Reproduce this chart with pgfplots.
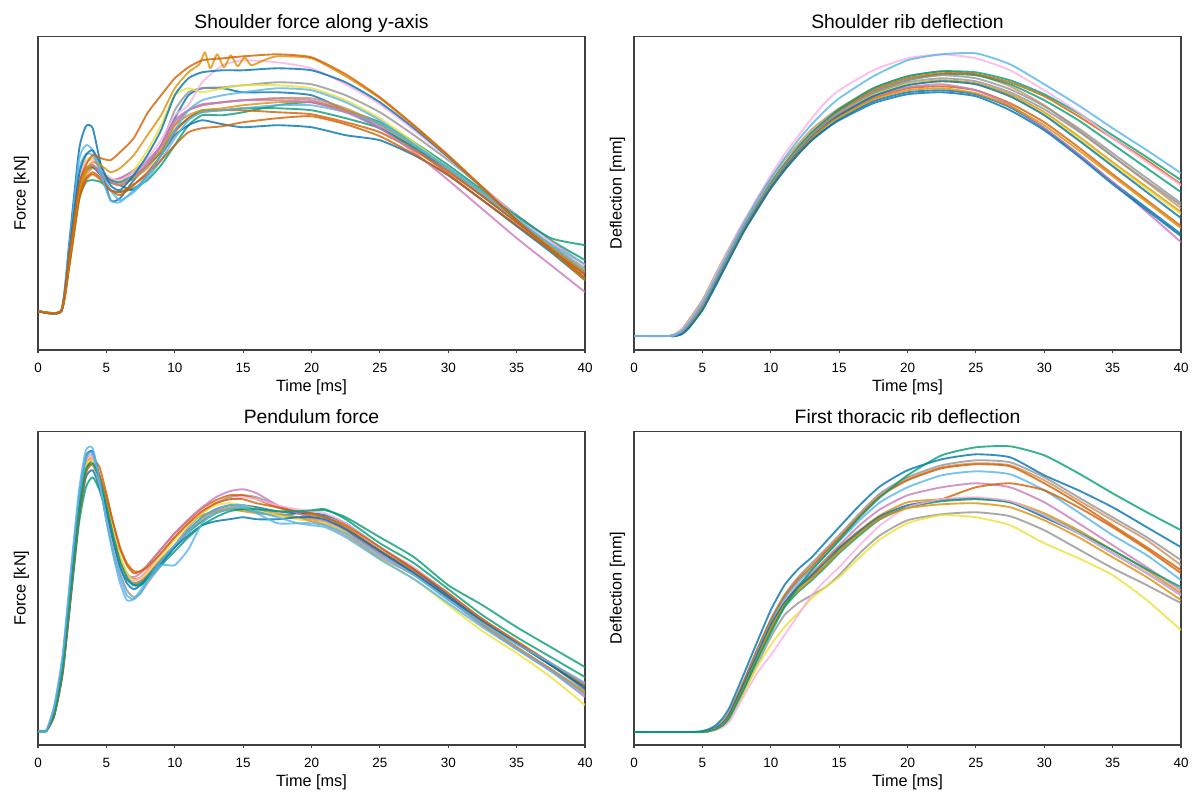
\documentclass[border=0pt]{standalone}
\usepackage{fontspec}
\setmainfont{Liberation Sans}
\usepackage{pgfplots}
\pgfplotsset{compat=1.18}
\definecolor{c0}{HTML}{0173B2}
\definecolor{c1}{HTML}{DE8F05}
\definecolor{c2}{HTML}{029E73}
\definecolor{c3}{HTML}{D55E00}
\definecolor{c4}{HTML}{CC78BC}
\definecolor{c5}{HTML}{CA9161}
\definecolor{c6}{HTML}{FBAFE4}
\definecolor{c7}{HTML}{949494}
\definecolor{c8}{HTML}{ECE133}
\definecolor{c9}{HTML}{56B4E9}
% 1 px of the reference = 0.75pt
\pgfplotsset{panel/.style={
  scale only axis, width=410.25pt, height=235.25pt, anchor=south west,
  xmin=0, xmax=40, ymin=0, ymax=314,
  xtick={0,5,...,40}, ytick=\empty, xtick pos=left,
  tick align=outside, major tick length=2.6pt,
  axis line style={black!75, line width=0.9pt},
  every tick/.style={black!75, line width=0.9pt},
  /pgf/number format/assume math mode=true,
  xticklabel style={font=\fontsize{10.1}{12}\selectfont, anchor=base, yshift=-14pt},
  xlabel={Time [ms]},
  xlabel style={font=\fontsize{12.2}{14}\selectfont, at={(axis description cs:0.5,-0.133)}, anchor=base},
  ylabel style={font=\fontsize{12.2}{14}\selectfont, at={(axis description cs:-0.0225,0.5)}, anchor=base, rotate=0},
  title style={font=\fontsize{14.5}{17}\selectfont, at={(0.5,1)}, anchor=base},
  every axis plot/.append style={line width=1.4pt, opacity=0.8, smooth, tension=0.35, line join=round, no marks},
}}

\begin{document}
\begin{tikzpicture}
\path[use as bounding box] (0,0) rectangle (896.25pt,594.75pt);

% ---------------- Shoulder force along y-axis
\begin{axis}[panel, at={(28.5pt,332.25pt)}, title={Shoulder force along y-axis}, ylabel={Force [kN]}]
\addplot[c0] coordinates {(0,39)(1.7,40)(2.3,110)(3,200)(3.5,224)(4,222)(4.6,185)(5.3,150)(6,152)(7,170)(8,185)(9,205)(10,232)(11,255)(12,262)(13.5,262)(15,258)(17.5,258)(20,255)(22.5,240)(25,222)(27.5,202)(30,180)(32.5,154)(35,128)(37.5,102)(40,76)};
\addplot[c2] coordinates {(0,39)(1.7,39)(2.3,85)(3,150)(3.5,168)(4,170)(4.6,168)(5.3,160)(6,158)(7,162)(8,170)(9,185)(10,205)(11,225)(12,235)(13.5,235)(15,238)(17.5,245)(20,248)(22.5,240)(25,228)(27.5,208)(30,185)(32.5,160)(35,135)(37.5,110)(40,90)};
\addplot[c7] coordinates {(0,39)(1.7,39)(2.3,90)(3,160)(3.5,178)(4,183)(4.6,175)(5.3,170)(6,172)(7,180)(8,190)(9,205)(10,240)(11,258)(12,262)(13.5,263)(15,265)(17.5,268)(20,266)(22.5,255)(25,238)(27.5,215)(30,190)(32.5,163)(35,135)(37.5,110)(40,85)};
\addplot[c8] coordinates {(0,39)(1.7,39)(2.3,95)(3,170)(3.5,190)(4,192)(4.6,180)(5.3,172)(6,168)(7,180)(8,200)(9,225)(10,255)(11,262)(12,258)(13.5,262)(15,265)(17.5,265)(20,262)(22.5,250)(25,232)(27.5,208)(30,182)(32.5,158)(35,130)(37.5,103)(40,78)};
\addplot[c4] coordinates {(0,39)(1.7,39)(2.3,98)(3,165)(3.5,182)(4,185)(4.6,178)(5.3,170)(6,172)(7,178)(8,188)(9,205)(10,230)(11,240)(12,245)(13.5,248)(15,250)(17.5,252)(20,250)(22.5,240)(25,224)(27.5,202)(30,176)(32.5,150)(35,125)(37.5,100)(40,72)};
\addplot[c5] coordinates {(0,39)(1.7,39)(2.3,88)(3,155)(3.5,175)(4,182)(4.6,178)(5.3,168)(6,165)(7,172)(8,182)(9,200)(10,225)(11,240)(12,245)(13.5,248)(15,250)(17.5,252)(20,252)(22.5,242)(25,226)(27.5,205)(30,180)(32.5,155)(35,130)(37.5,105)(40,82)};
\addplot[c6] coordinates {(0,39)(1.7,39)(2.3,100)(3,170)(3.5,188)(4,190)(4.6,180)(5.3,172)(6,170)(7,178)(8,192)(9,210)(10,235)(11,245)(12,268)(13.5,285)(15,290)(17.5,288)(20,282)(22.5,266)(25,246)(27.5,220)(30,192)(32.5,163)(35,134)(37.5,108)(40,85)};
\addplot[c0] coordinates {(0,39)(1.7,39)(2.3,90)(3,160)(3.5,180)(4,184)(4.6,175)(5.3,168)(6,165)(7,160)(8,175)(9,195)(10,215)(11,225)(12,230)(13.5,226)(15,223)(17.5,225)(20,223)(22.5,215)(25,210)(27.5,195)(30,175)(32.5,150)(35,124)(37.5,98)(40,70)};
\addplot[c2] coordinates {(0,39)(1.7,39)(2.3,92)(3,162)(3.5,180)(4,183)(4.6,178)(5.3,170)(6,168)(7,175)(8,185)(9,198)(10,220)(11,232)(12,240)(13.5,240)(15,242)(17.5,242)(20,240)(22.5,232)(25,222)(27.5,203)(30,182)(32.5,158)(35,134)(37.5,112)(40,105)};
\addplot[c3] coordinates {(0,39)(1.7,39)(2.3,88)(3,155)(3.5,172)(4,178)(4.6,172)(5.3,160)(6,155)(7,165)(8,178)(9,195)(10,218)(11,232)(12,238)(13.5,240)(15,240)(17.5,238)(20,236)(22.5,228)(25,218)(27.5,200)(30,178)(32.5,154)(35,128)(37.5,103)(40,78)};
\addplot[c1] coordinates {(0,39)(1.7,39)(2.3,90)(3,158)(3.5,178)(4,185)(4.6,178)(5.3,168)(6,165)(7,172)(8,185)(9,200)(10,225)(11,235)(12,240)(13.5,242)(15,245)(17.5,248)(20,248)(22.5,240)(25,226)(27.5,205)(30,182)(32.5,157)(35,130)(37.5,104)(40,78)};
\addplot[c9] coordinates {(0,39)(1.7,39)(2.3,100)(3,180)(3.5,196)(4,195)(4.6,180)(5.3,160)(6,150)(7,158)(8,172)(9,190)(10,212)(11,230)(12,238)(13.5,240)(15,242)(17.5,245)(20,245)(22.5,238)(25,226)(27.5,206)(30,182)(32.5,157)(35,130)(37.5,106)(40,86)};
\addplot[c4] coordinates {(0,39)(1.7,39)(2.3,95)(3,165)(3.5,182)(4,185)(4.6,176)(5.3,168)(6,166)(7,174)(8,186)(9,204)(10,228)(11,240)(12,246)(13.5,248)(15,250)(17.5,250)(20,248)(22.5,238)(25,222)(27.5,198)(30,170)(32.5,141)(35,112)(37.5,85)(40,58)};
\addplot[c3] coordinates {(0,39)(1.7,39)(2.3,85)(3,150)(3.5,170)(4,176)(4.6,170)(5.3,160)(6,158)(7,166)(8,176)(9,190)(10,205)(11,218)(12,222)(13.5,224)(15,228)(17.5,232)(20,234)(22.5,226)(25,214)(27.5,196)(30,175)(32.5,150)(35,125)(37.5,100)(40,75)};
\addplot[c9] coordinates {(0,39)(1.7,39)(2.3,105)(3,190)(3.5,205)(4,200)(4.6,175)(5.3,150)(6,148)(7,160)(8,175)(9,195)(10,220)(11,240)(12,250)(13.5,255)(15,258)(17.5,262)(20,260)(22.5,248)(25,230)(27.5,205)(30,182)(32.5,158)(35,132)(37.5,105)(40,80)};
\addplot[c0] coordinates {(0,39)(1.7,39)(2.3,100)(3,175)(3.5,195)(4,200)(4.6,185)(5.3,165)(6,160)(7,175)(8,195)(9,220)(10,255)(11,272)(12,278)(13.5,280)(15,280)(17.5,282)(20,280)(22.5,268)(25,248)(27.5,222)(30,193)(32.5,162)(35,130)(37.5,100)(40,70)};
\addplot[c1] coordinates {(0,39)(1.7,39)(2.3,92)(3,160)(3.5,180)(4,188)(4.6,185)(5.3,178)(6,182)(7,195)(8,215)(9,235)(10,262)(11,278)(11.8,286)(12.2,298)(12.6,282)(13.1,296)(13.6,283)(14.1,295)(14.6,284)(15.1,293)(15.6,285)(16.5,290)(17.5,294)(20,292)(22.5,274)(25,252)(27.5,224)(30,194)(32.5,162)(35,130)(37.5,100)(40,70)};
\addplot[c3] coordinates {(0,39)(1.7,39)(2.3,95)(3,165)(3.5,185)(4,195)(4.6,192)(5.3,190)(6,198)(7,212)(8,237)(9,255)(10,272)(11,283)(12,290)(13.5,292)(15,294)(17.5,296)(20,293)(22.5,276)(25,253)(27.5,225)(30,195)(32.5,163)(35,130)(37.5,100)(40,72)};
\end{axis}

% ---------------- Shoulder rib deflection
\begin{axis}[panel, at={(475.5pt,332.25pt)}, title={Shoulder rib deflection}, ylabel={Deflection [mm]}]
\addplot[c0] coordinates {(0,14)(2.5,14)(3,14)(3.5,16)(4,22)(5,40)(6,65)(7,92)(8,118)(9,140)(10,162)(11,180)(12,196)(13,210)(14,221)(15,231)(17.5,249)(20,258)(22.5,260)(25,256)(27.5,243)(30,222)(32.5,196)(35,168)(37.5,142)(40,116)};
\addplot[c5] coordinates {(0,14)(2.5,14)(3,16)(3.5,21)(4,30)(5,50)(6,77)(7,103)(8,128)(9,150)(10,171)(11,190)(12,206)(13,221)(14,232)(15,242)(17.5,262)(20,274)(22.5,279)(25,276)(27.5,264)(30,245)(32.5,220)(35,194)(37.5,168)(40,142)};
\addplot[c2] coordinates {(0,14)(2.5,14)(3,15)(3.5,19)(4,26)(5,45)(6,72)(7,98)(8,123)(9,146)(10,167)(11,186)(12,202)(13,216)(14,228)(15,238)(17.5,258)(20,270)(22.5,276)(25,275)(27.5,266)(30,250)(32.5,230)(35,206)(37.5,182)(40,158)};
\addplot[c3] coordinates {(0,14)(2.5,14)(3,14)(3.5,17)(4,24)(5,42)(6,68)(7,94)(8,119)(9,142)(10,163)(11,182)(12,198)(13,212)(14,224)(15,234)(17.5,252)(20,262)(22.5,264)(25,260)(27.5,247)(30,228)(32.5,203)(35,176)(37.5,150)(40,124)};
\addplot[c1] coordinates {(0,14)(2.5,14)(3,15)(3.5,18)(4,25)(5,44)(6,70)(7,96)(8,121)(9,144)(10,165)(11,184)(12,200)(13,215)(14,227)(15,237)(17.5,256)(20,266)(22.5,270)(25,267)(27.5,256)(30,238)(32.5,214)(35,188)(37.5,163)(40,138)};
\addplot[c7] coordinates {(0,14)(2.5,14)(3,15)(3.5,19)(4,26)(5,45)(6,71)(7,97)(8,122)(9,145)(10,166)(11,185)(12,202)(13,217)(14,229)(15,239)(17.5,258)(20,270)(22.5,275)(25,272)(27.5,261)(30,244)(32.5,222)(35,197)(37.5,172)(40,147)};
\addplot[c8] coordinates {(0,14)(2.5,14)(3,15)(3.5,19)(4,26)(5,46)(6,72)(7,98)(8,123)(9,146)(10,167)(11,186)(12,203)(13,217)(14,229)(15,238)(17.5,256)(20,266)(22.5,269)(25,266)(27.5,254)(30,236)(32.5,212)(35,186)(37.5,161)(40,136)};
\addplot[c4] coordinates {(0,14)(2.5,14)(3,15)(3.5,19)(4,26)(5,45)(6,71)(7,97)(8,122)(9,145)(10,166)(11,185)(12,201)(13,216)(14,227)(15,236)(17.5,254)(20,263)(22.5,266)(25,260)(27.5,245)(30,222)(32.5,196)(35,168)(37.5,138)(40,108)};
\addplot[c0] coordinates {(0,14)(2.5,14)(3,14)(3.5,17)(4,23)(5,42)(6,68)(7,94)(8,119)(9,142)(10,163)(11,182)(12,198)(13,213)(14,225)(15,235)(17.5,254)(20,265)(22.5,269)(25,266)(27.5,254)(30,235)(32.5,210)(35,184)(37.5,158)(40,132)};
\addplot[c3] coordinates {(0,14)(2.5,14)(3,15)(3.5,18)(4,25)(5,44)(6,70)(7,96)(8,121)(9,144)(10,166)(11,185)(12,202)(13,217)(14,229)(15,240)(17.5,260)(20,272)(22.5,277)(25,276)(27.5,268)(30,254)(32.5,234)(35,212)(37.5,190)(40,166)};
\addplot[c2] coordinates {(0,14)(2.5,14)(3,15)(3.5,19)(4,26)(5,45)(6,71)(7,97)(8,122)(9,145)(10,167)(11,186)(12,203)(13,218)(14,230)(15,241)(17.5,262)(20,274)(22.5,279)(25,278)(27.5,270)(30,256)(32.5,237)(35,215)(37.5,193)(40,170)};
\addplot[c1] coordinates {(0,14)(2.5,14)(3,14)(3.5,17)(4,23)(5,42)(6,67)(7,93)(8,118)(9,141)(10,162)(11,181)(12,197)(13,212)(14,224)(15,233)(17.5,251)(20,260)(22.5,262)(25,257)(27.5,244)(30,225)(32.5,200)(35,174)(37.5,148)(40,122)};
\addplot[c7] coordinates {(0,14)(2.5,14)(3,15)(3.5,19)(4,26)(5,45)(6,71)(7,97)(8,122)(9,145)(10,166)(11,185)(12,201)(13,216)(14,228)(15,238)(17.5,257)(20,268)(22.5,272)(25,269)(27.5,258)(30,241)(32.5,219)(35,194)(37.5,169)(40,145)};
\addplot[c0] coordinates {(0,14)(2.5,14)(3,14)(3.5,16)(4,22)(5,40)(6,66)(7,92)(8,118)(9,141)(10,162)(11,180)(12,196)(13,210)(14,221)(15,230)(17.5,247)(20,256)(22.5,258)(25,254)(27.5,240)(30,220)(32.5,194)(35,166)(37.5,140)(40,114)};
\addplot[c6] coordinates {(0,14)(2.5,14)(3,15)(3.5,20)(4,28)(5,48)(6,75)(7,102)(8,128)(9,152)(10,175)(11,196)(12,214)(13,232)(14,248)(15,260)(17.5,280)(20,292)(22.5,296)(25,292)(27.5,280)(30,260)(32.5,238)(35,212)(37.5,188)(40,165)};
\addplot[c9] coordinates {(0,14)(2.5,14)(3,15)(3.5,19)(4,27)(5,47)(6,73)(7,100)(8,126)(9,150)(10,172)(11,192)(12,210)(13,226)(14,240)(15,252)(17.5,274)(20,290)(22.5,296)(25,297)(27.5,286)(30,266)(32.5,245)(35,222)(37.5,200)(40,177)};
\end{axis}

% ---------------- Pendulum force
\begin{axis}[panel, at={(28.5pt,36pt)}, title={Pendulum force}, ylabel={Force [kN]}]
\addplot[c7] coordinates {(0,14)(0.6,14)(1.2,38)(1.8,85)(2.4,168)(3,248)(3.5,290)(4,292)(4.5,262)(5,225)(5.5,195)(6,172)(6.5,155)(7,148)(7.5,152)(8,162)(9,180)(10,200)(11,218)(12,232)(13,242)(14,248)(15,250)(16,248)(17.5,240)(19,232)(20,228)(21,225)(22.5,216)(25,194)(27.5,172)(30,146)(32.5,120)(35,98)(37.5,76)(40,52)};
\addplot[c2] coordinates {(0,14)(0.6,14)(1.2,30)(1.8,72)(2.4,148)(3,222)(3.5,258)(4,268)(4.5,255)(5,232)(5.5,205)(6,182)(6.5,167)(7,162)(7.5,164)(8,170)(9,185)(10,200)(11,213)(12,224)(13,232)(14,236)(15,236)(16,233)(17.5,230)(19,232)(20,234)(21,235)(22.5,228)(25,208)(27.5,188)(30,160)(32.5,140)(35,118)(37.5,98)(40,78)};
\addplot[c3] coordinates {(0,14)(0.6,14)(1.2,32)(1.8,75)(2.4,152)(3,232)(3.5,275)(4,286)(4.5,278)(5,252)(5.5,222)(6,196)(6.5,180)(7,172)(7.5,174)(8,180)(9,196)(10,212)(11,225)(12,237)(13,245)(14,250)(15,250)(16,246)(17.5,238)(19,232)(20,230)(21,228)(22.5,218)(25,195)(27.5,174)(30,150)(32.5,124)(35,102)(37.5,80)(40,58)};
\addplot[c1] coordinates {(0,14)(0.6,14)(1.2,34)(1.8,78)(2.4,158)(3,238)(3.5,280)(4,288)(4.5,270)(5,242)(5.5,212)(6,188)(6.5,172)(7,166)(7.5,168)(8,175)(9,192)(10,208)(11,222)(12,230)(13,234)(14,236)(15,234)(16,232)(17.5,230)(19,228)(20,226)(21,222)(22.5,214)(25,192)(27.5,172)(30,148)(32.5,122)(35,98)(37.5,76)(40,52)};
\addplot[c0] coordinates {(0,14)(0.6,14)(1.2,30)(1.8,72)(2.4,148)(3,228)(3.5,268)(4,275)(4.5,258)(5,232)(5.5,204)(6,180)(6.5,166)(7,160)(7.5,162)(8,168)(9,182)(10,198)(11,215)(12,228)(13,236)(14,240)(15,240)(16,238)(17.5,234)(19,232)(20,232)(21,230)(22.5,222)(25,198)(27.5,176)(30,150)(32.5,126)(35,102)(37.5,80)(40,58)};
\addplot[c4] coordinates {(0,14)(0.6,14)(1.2,38)(1.8,86)(2.4,168)(3,248)(3.5,285)(4,290)(4.5,266)(5,236)(5.5,205)(6,182)(6.5,170)(7,168)(7.5,172)(8,180)(9,196)(10,212)(11,226)(12,238)(13,248)(14,254)(15,256)(16,252)(17.5,240)(19,232)(20,228)(21,224)(22.5,214)(25,192)(27.5,172)(30,148)(32.5,120)(35,96)(37.5,74)(40,48)};
\addplot[c8] coordinates {(0,14)(0.6,14)(1.2,34)(1.8,80)(2.4,160)(3,240)(3.5,280)(4,285)(4.5,268)(5,242)(5.5,212)(6,188)(6.5,172)(7,165)(7.5,166)(8,172)(9,188)(10,205)(11,220)(12,232)(13,240)(14,242)(15,240)(16,236)(17.5,230)(19,226)(20,224)(21,222)(22.5,213)(25,186)(27.5,166)(30,140)(32.5,114)(35,92)(37.5,68)(40,40)};
\addplot[c5] coordinates {(0,14)(0.6,14)(1.2,32)(1.8,76)(2.4,154)(3,234)(3.5,274)(4,280)(4.5,262)(5,236)(5.5,206)(6,182)(6.5,168)(7,162)(7.5,164)(8,170)(9,186)(10,200)(11,214)(12,226)(13,234)(14,238)(15,238)(16,236)(17.5,232)(19,228)(20,224)(21,220)(22.5,210)(25,188)(27.5,170)(30,146)(32.5,120)(35,98)(37.5,76)(40,54)};
\addplot[c6] coordinates {(0,14)(0.6,14)(1.2,40)(1.8,88)(2.4,170)(3,250)(3.5,288)(4,288)(4.5,262)(5,232)(5.5,202)(6,180)(6.5,168)(7,164)(7.5,168)(8,176)(9,192)(10,208)(11,222)(12,234)(13,242)(14,246)(15,248)(16,246)(17.5,240)(19,236)(20,234)(21,232)(22.5,222)(25,198)(27.5,178)(30,152)(32.5,126)(35,104)(37.5,82)(40,62)};
\addplot[c0] coordinates {(0,14)(0.6,14)(1.2,36)(1.8,84)(2.4,165)(3,245)(3.5,288)(4,294)(4.5,268)(5,236)(5.5,204)(6,178)(6.5,162)(7,156)(7.5,160)(8,168)(9,184)(10,198)(11,210)(12,220)(13,224)(14,226)(15,228)(16,226)(17.5,226)(19,228)(20,228)(21,226)(22.5,216)(25,194)(27.5,172)(30,148)(32.5,124)(35,102)(37.5,80)(40,56)};
\addplot[c3] coordinates {(0,14)(0.6,14)(1.2,30)(1.8,72)(2.4,150)(3,230)(3.5,272)(4,282)(4.5,270)(5,248)(5.5,222)(6,198)(6.5,182)(7,174)(7.5,174)(8,178)(9,192)(10,208)(11,222)(12,234)(13,242)(14,246)(15,246)(16,242)(17.5,238)(19,234)(20,232)(21,228)(22.5,220)(25,198)(27.5,176)(30,152)(32.5,126)(35,104)(37.5,82)(40,60)};
\addplot[c9] coordinates {(0,14)(0.6,14)(1.2,36)(1.8,82)(2.4,165)(3,245)(3.5,288)(4,292)(4.5,262)(5,225)(5.5,190)(6,162)(6.5,145)(7,146)(7.5,155)(8,166)(9,184)(10,200)(11,214)(12,228)(13,236)(14,240)(15,240)(16,234)(17.5,228)(19,222)(20,220)(21,218)(22.5,208)(25,186)(27.5,166)(30,142)(32.5,118)(35,96)(37.5,74)(40,50)};
\addplot[c2] coordinates {(0,14)(0.6,14)(1.2,32)(1.8,76)(2.4,155)(3,235)(3.5,276)(4,282)(4.5,266)(5,240)(5.5,210)(6,184)(6.5,168)(7,160)(7.5,160)(8,166)(9,180)(10,194)(11,208)(12,220)(13,228)(14,234)(15,236)(16,236)(17.5,234)(19,234)(20,235)(21,236)(22.5,226)(25,202)(27.5,182)(30,156)(32.5,130)(35,108)(37.5,88)(40,68)};
\addplot[c9] coordinates {(0,14)(0.6,14)(1.2,40)(1.8,90)(2.4,175)(3,255)(3.5,295)(4,297)(4.5,265)(5,225)(5.5,192)(6,168)(6.5,150)(7,146)(7.5,152)(8,164)(9,180)(10,180)(11,196)(12,222)(13,232)(14,236)(15,238)(16,232)(17.5,222)(19,222)(20,222)(21,220)(22.5,212)(25,190)(27.5,170)(30,145)(32.5,122)(35,101)(37.5,82)(40,62)};
\end{axis}

% ---------------- First thoracic rib deflection
\begin{axis}[panel, at={(475.5pt,36pt)}, title={First thoracic rib deflection}, ylabel={Deflection [mm]}]
\addplot[c7] coordinates {(0,13)(4,13)(5,13)(5.5,14)(6,17)(6.5,22)(7,32)(8,62)(9,95)(10,125)(11,150)(12,168)(13,182)(14,196)(15,210)(16.5,232)(18,252)(20,268)(22.5,280)(25,285)(27.5,283)(30,268)(32.5,248)(35,228)(37.5,208)(40,185)};
\addplot[c5] coordinates {(0,13)(4,13)(5,13)(5.5,15)(6,18)(6.5,24)(7,34)(8,64)(9,96)(10,126)(11,150)(12,167)(13,180)(14,194)(15,208)(16.5,230)(18,250)(20,266)(22.5,278)(25,282)(27.5,280)(30,265)(32.5,245)(35,225)(37.5,205)(40,180)};
\addplot[c3] coordinates {(0,13)(4,13)(5,13)(5.5,14)(6,17)(6.5,22)(7,32)(8,62)(9,94)(10,124)(11,148)(12,165)(13,178)(14,193)(15,207)(16.5,229)(18,249)(20,265)(22.5,277)(25,281)(27.5,279)(30,262)(32.5,242)(35,220)(37.5,198)(40,175)};
\addplot[c9] coordinates {(0,13)(4,13)(5,13)(5.5,14)(6,17)(6.5,22)(7,31)(8,60)(9,92)(10,122)(11,146)(12,163)(13,176)(14,190)(15,204)(16.5,225)(18,243)(20,258)(22.5,270)(25,274)(27.5,271)(30,255)(32.5,233)(35,210)(37.5,190)(40,165)};
\addplot[c4] coordinates {(0,13)(4,13)(5,13)(5.5,14)(6,17)(6.5,22)(7,30)(8,58)(9,88)(10,118)(11,142)(12,160)(13,172)(14,186)(15,200)(16.5,220)(18,236)(20,250)(22.5,258)(25,262)(27.5,258)(30,243)(32.5,222)(35,200)(37.5,178)(40,155)};
\addplot[c3] coordinates {(0,13)(4,13)(5,13)(5.5,14)(6,16)(6.5,21)(7,30)(8,58)(9,88)(10,118)(11,142)(12,158)(13,168)(14,180)(15,195)(16.5,212)(18,227)(20,238)(22.5,246)(25,258)(27.5,262)(30,255)(32.5,238)(35,218)(37.5,196)(40,172)};
\addplot[c1] coordinates {(0,13)(4,13)(5,13)(5.5,14)(6,16)(6.5,20)(7,28)(8,55)(9,85)(10,115)(11,140)(12,156)(13,170)(14,185)(15,198)(16.5,215)(18,230)(20,243)(22.5,246)(25,247)(27.5,244)(30,232)(32.5,215)(35,195)(37.5,175)(40,152)};
\addplot[c0] coordinates {(0,13)(4,13)(5,13)(5.5,14)(6,17)(6.5,22)(7,31)(8,60)(9,90)(10,120)(11,142)(12,158)(13,170)(14,183)(15,197)(16.5,214)(18,229)(20,240)(22.5,245)(25,247)(27.5,243)(30,228)(32.5,212)(35,192)(37.5,172)(40,150)};
\addplot[c2] coordinates {(0,13)(4,13)(5,13)(5.5,14)(6,16)(6.5,20)(7,28)(8,56)(9,86)(10,115)(11,138)(12,153)(13,165)(14,178)(15,192)(16.5,210)(18,226)(20,238)(22.5,244)(25,246)(27.5,243)(30,230)(32.5,213)(35,195)(37.5,176)(40,158)};
\addplot[c7] coordinates {(0,13)(4,13)(5,13)(5.5,14)(6,16)(6.5,19)(7,26)(8,52)(9,80)(10,108)(11,130)(12,142)(13,150)(14,158)(15,170)(16.5,192)(18,210)(20,225)(22.5,231)(25,233)(27.5,229)(30,215)(32.5,196)(35,177)(37.5,160)(40,142)};
\addplot[c8] coordinates {(0,13)(4,13)(5,13)(5.5,14)(6,16)(6.5,20)(7,27)(8,52)(9,78)(10,100)(11,118)(12,132)(13,147)(14,158)(15,168)(16.5,188)(18,206)(20,222)(22.5,230)(25,228)(27.5,220)(30,202)(32.5,187)(35,170)(37.5,145)(40,115)};
\addplot[c6] coordinates {(0,13)(4,13)(5,13)(5.5,14)(6,15)(6.5,18)(7,24)(8,48)(9,72)(10,90)(11,110)(12,130)(13,150)(14,165)(15,178)(16.5,200)(18,220)(20,238)(22.5,246)(25,248)(27.5,244)(30,230)(32.5,212)(35,192)(37.5,172)(40,150)};
\addplot[c1] coordinates {(0,13)(4,13)(5,13)(5.5,14)(6,16)(6.5,21)(7,29)(8,57)(9,87)(10,117)(11,140)(12,155)(13,167)(14,180)(15,194)(16.5,212)(18,227)(20,237)(22.5,241)(25,242)(27.5,238)(30,225)(32.5,208)(35,188)(37.5,168)(40,145)};
\addplot[c0] coordinates {(0,13)(4,13)(5,14)(5.5,16)(6,20)(6.5,27)(7,38)(8,70)(9,103)(10,135)(11,160)(12,176)(13,188)(14,203)(15,218)(16.5,240)(18,259)(20,275)(22.5,286)(25,291)(27.5,288)(30,270)(32.5,255)(35,238)(37.5,218)(40,198)};
\addplot[c2] coordinates {(0,13)(4,13)(5,13)(5.5,14)(6,16)(6.5,20)(7,28)(8,55)(9,85)(10,112)(11,138)(12,158)(13,175)(14,190)(15,205)(16.5,228)(18,248)(20,270)(22.5,290)(25,298)(27.5,299)(30,290)(32.5,272)(35,252)(37.5,233)(40,215)};
\end{axis}
\end{tikzpicture}
\end{document}
